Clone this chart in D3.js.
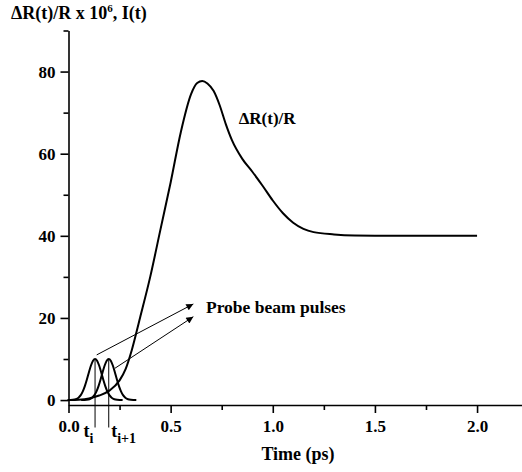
<!DOCTYPE html>
<html><head><meta charset="utf-8">
<script src="https://cdn.jsdelivr.net/npm/d3@7"></script>
<style>
html,body{margin:0;padding:0;background:#fff;}
</style></head>
<body><svg id="c" width="522" height="472"></svg>
<script>
// ---- data ----
const curveT = [0, 0.05, 0.1, 0.15, 0.2, 0.25, 0.28, 0.31, 0.35, 0.4, 0.45, 0.5, 0.55, 0.6, 0.63, 0.655, 0.68, 0.71, 0.74, 0.77, 0.8, 0.85, 0.9, 0.95, 1.0, 1.05, 1.1, 1.15, 1.2, 1.3, 1.4, 1.6, 1.8, 2.0];
const curveV = [0, 0.1, 0.4, 1.1, 2.3, 4.8, 7.6, 12.2, 20, 30, 41.5, 53, 65.3, 74.5, 77.2, 77.7, 77.1, 75.3, 71.8, 67.2, 63.3, 58.8, 55.6, 52.2, 48.6, 45.5, 43.2, 41.7, 40.9, 40.35, 40.1, 40, 40, 40];
const pulseDt = [-0.135, -0.12, -0.10, -0.09, -0.08, -0.07, -0.06, -0.05, -0.04, -0.03, -0.02, -0.01, 0, 0.01, 0.02, 0.03, 0.04, 0.05, 0.06, 0.07, 0.08, 0.09, 0.10, 0.12, 0.135];
const pulseV  = [0, 0.02, 0.13, 0.30, 0.63, 1.20, 2.11, 3.39, 5.0, 6.78, 8.41, 9.58, 10, 9.58, 8.41, 6.78, 5.0, 3.39, 2.11, 1.20, 0.63, 0.30, 0.13, 0.02, 0];
const pulseCenters = [0.13, 0.197];
const pulseLabels = ["i", "i+1"];
const arrowsFrom = [[0.138, 11], [0.2275, 7.75]];
const arrowsTo   = [[0.611, 23.4], [0.611, 20.3]];
const xMajor = [0, 0.5, 1.0, 1.5, 2.0];
const xMinor = [0.25, 0.75, 1.25, 1.75];
const yMajor = [0, 20, 40, 60, 80];
const yMinor = [10, 30, 50, 70, 90];

const FONT = "'Liberation Serif', 'Times New Roman', Times, serif";

// ---- scales ----
const svg = d3.select("#c");
const x = d3.scaleLinear().domain([0, 2.22]).range([68.5, 522]);
const y = d3.scaleLinear().domain([-1.2, 90]).range([405, 30.5]);

// axes
const gx = svg.append("g").attr("transform", "translate(0,405)");
gx.call(d3.axisBottom(x).tickValues(xMinor).tickSize(5).tickFormat(""));
gx.call(g => g.select(".domain").remove());
const gx2 = svg.append("g").attr("transform", "translate(0,405)");
gx2.call(d3.axisBottom(x).tickValues(xMajor).tickSize(8).tickSizeOuter(0).tickFormat(d3.format(".1f")));
gx2.selectAll("text").attr("y", 27).attr("dy", 0).style("font-size", "17px");

const gy = svg.append("g").attr("transform", "translate(68.5,0)");
gy.call(d3.axisLeft(y).tickValues(yMinor).tickSize(5).tickFormat(""));
gy.call(g => g.select(".domain").remove());
const gy2 = svg.append("g").attr("transform", "translate(68.5,0)");
gy2.call(d3.axisLeft(y).tickValues(yMajor).tickSize(8).tickSizeOuter(0).tickPadding(5).tickFormat(d3.format("d")));
gy2.selectAll("text").attr("dy", "0.34em").style("font-size", "17px");

svg.selectAll(".domain, .tick line").attr("stroke", "#000").attr("stroke-width", 1.6);

// main curve
const line = d3.line().x(d => x(d[0])).y(d => y(d[1])).curve(d3.curveMonotoneX);
svg.append("path").datum(curveT.map((t, i) => [t, curveV[i]]))
  .attr("d", line).attr("fill", "none").attr("stroke", "#000").attr("stroke-width", 2);

// pulses
const labelOffsets = [-11.5, 2.5];
pulseCenters.forEach((c, k) => {
  svg.append("path").datum(pulseDt.map((d, i) => [c + d, pulseV[i]]))
    .attr("d", line).attr("fill", "none").attr("stroke", "#000").attr("stroke-width", 2);
  svg.append("line").attr("x1", x(c)).attr("x2", x(c)).attr("y1", y(10)).attr("y2", 427.5)
    .attr("stroke", "#000").attr("stroke-width", 1);
  const t = svg.append("text").attr("x", x(c) + labelOffsets[k]).attr("y", 437).style("font-size", "18px");
  t.append("tspan").text("t");
  t.append("tspan").attr("dy", 6).style("font-size", "14px").text(pulseLabels[k]);
});

// arrows
svg.append("defs").append("marker").attr("id", "ah").attr("viewBox", "0 0 10 10")
  .attr("refX", 10).attr("refY", 5).attr("markerWidth", 11).attr("markerHeight", 7)
  .attr("markerUnits", "userSpaceOnUse").attr("orient", "auto")
  .append("path").attr("d", "M0,0L10,5L0,10z").attr("fill", "#000");
arrowsFrom.forEach((f, i) => {
  svg.append("line").attr("x1", x(f[0])).attr("y1", y(f[1]))
    .attr("x2", x(arrowsTo[i][0])).attr("y2", y(arrowsTo[i][1]))
    .attr("stroke", "#000").attr("stroke-width", 1).attr("marker-end", "url(#ah)");
});

// annotations
svg.append("text").attr("x", x(0.673)).attr("y", y(21.1)).style("font-size", "17.5px").text("Probe beam pulses");
svg.append("text").attr("x", x(0.833)).attr("y", y(67.3)).style("font-size", "17px").text("ΔR(t)/R");

// titles
const tt = svg.append("text").attr("x", 11).attr("y", 19).style("font-size", "18px");
tt.append("tspan").text("ΔR(t)/R x 10");
tt.append("tspan").attr("dy", -7).style("font-size", "11px").text("6");
tt.append("tspan").attr("dy", 7).text(", I(t)");
svg.append("text").attr("x", 298).attr("y", 460).attr("text-anchor", "middle").style("font-size", "18px").text("Time (ps)");

svg.selectAll("g").attr("font-family", null);
svg.selectAll("text").style("font-family", FONT).style("font-weight", "bold").attr("fill", "#000");
</script></body></html>
